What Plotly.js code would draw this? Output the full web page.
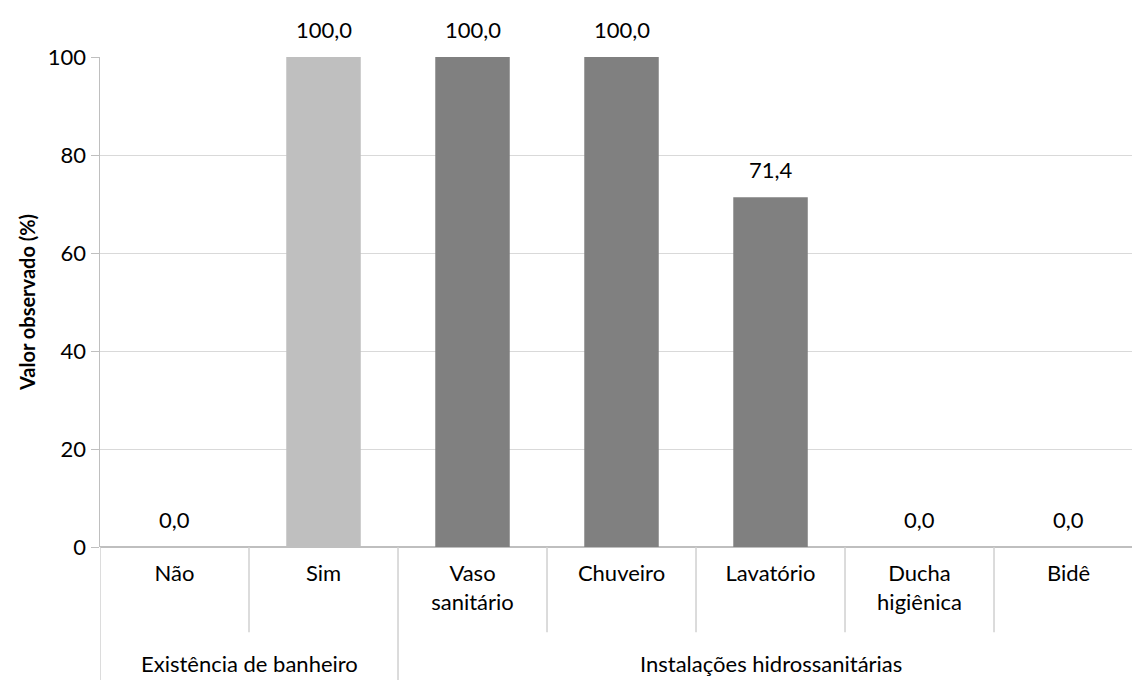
<!DOCTYPE html>
<html>
<head>
<meta charset="utf-8">
<script src="https://cdn.plot.ly/plotly-3.0.1.min.js"></script>
<style>html,body{margin:0;padding:0;background:#fff;}#chart{width:1132px;height:680px;}</style>
</head>
<body>
<div id="chart"></div>
<script>
// Data
const categories = ["Não", "Sim", "Vaso<br>sanitário", "Chuveiro", "Lavatório", "Ducha<br>higiênica", "Bidê"];
const groups = ["Existência de banheiro", "Existência de banheiro", "Instalações hidrossanitárias", "Instalações hidrossanitárias", "Instalações hidrossanitárias", "Instalações hidrossanitárias", "Instalações hidrossanitárias"];
const values = [0.0, 100.0, 100.0, 100.0, 71.4, 0.0, 0.0];
const yTicks = [0, 20, 40, 60, 80, 100];

// Styles
const groupColors = {"Existência de banheiro": "#BFBFBF", "Instalações hidrossanitárias": "#808080"};
const FONT = "Lato, 'Open Sans', sans-serif";
const labelSize = 22;
const dividerColor = "#D0D0D0";

const xIdx = categories.map((c, i) => i);

const trace = {
  type: "bar",
  x: xIdx,
  y: values,
  marker: {color: groups.map(g => groupColors[g]), line: {width: 0}},
  hoverinfo: "none"
};

const fmt = v => v.toFixed(1).replace(".", ",");
const annotations = values.map((v, i) => ({
  x: i, y: v, xref: "x", yref: "y",
  text: fmt(v), showarrow: false,
  yanchor: "bottom", yshift: 12,
  font: {family: FONT, size: labelSize, color: "#000"}
}));

// group labels and dividers
const uniqueGroups = [...new Set(groups)];
const shapes = [];
uniqueGroups.forEach(g => {
  const idx = groups.map((gg, i) => gg === g ? i : -1).filter(i => i >= 0);
  const mid = (idx[0] + idx[idx.length - 1]) / 2;
  annotations.push({
    x: mid, xref: "x", y: -0.238, yref: "paper",
    text: g, showarrow: false, yanchor: "middle",
    font: {family: FONT, size: labelSize, color: "#000"}
  });
});
for (let i = 0; i <= categories.length; i++) {
  const b = i - 0.5;
  const isGroupEdge = i === 0 || i === categories.length || groups[i] !== groups[i - 1];
  shapes.push({
    type: "line", xref: "x", yref: "paper",
    x0: b, x1: b, y0: 0, y1: isGroupEdge ? -0.28 : -0.174,
    line: {color: dividerColor, width: 1.5}
  });
}

const layout = {
  width: 1132, height: 680,
  margin: {l: 100, r: 0, t: 57, b: 133},
  paper_bgcolor: "#fff", plot_bgcolor: "#fff",
  font: {family: FONT, size: labelSize, color: "#000"},
  showlegend: false,
  bargap: 0.5,
  xaxis: {
    type: "linear",
    range: [-0.5, 6.426],
    tickmode: "array", tickvals: xIdx, ticktext: categories,
    showgrid: false, zeroline: false,
    showline: false, ticks: "",
    tickfont: {family: FONT, size: labelSize, color: "#000"},
    ticklabelstandoff: 11,
    fixedrange: true
  },
  yaxis: {
    range: [0, 100],
    tickmode: "array", tickvals: yTicks, ticktext: yTicks.map(String),
    showgrid: true, gridcolor: "#D9D9D9", gridwidth: 1,
    zeroline: true, zerolinecolor: "#BFBFBF", zerolinewidth: 1.5,
    showline: true, linecolor: "#BFBFBF", linewidth: 1.5,
    ticks: "outside", ticklen: 8, tickcolor: "#BFBFBF",
    tickfont: {family: FONT, size: labelSize, color: "#000"},
    title: {text: "<b>Valor observado (%)</b>", font: {family: FONT, size: 20, color: "#000"}, standoff: 7},
    fixedrange: true
  },
  annotations: annotations,
  shapes: shapes
};

Plotly.newPlot("chart", [trace], layout, {displayModeBar: false, staticPlot: true});
</script>
</body>
</html>
